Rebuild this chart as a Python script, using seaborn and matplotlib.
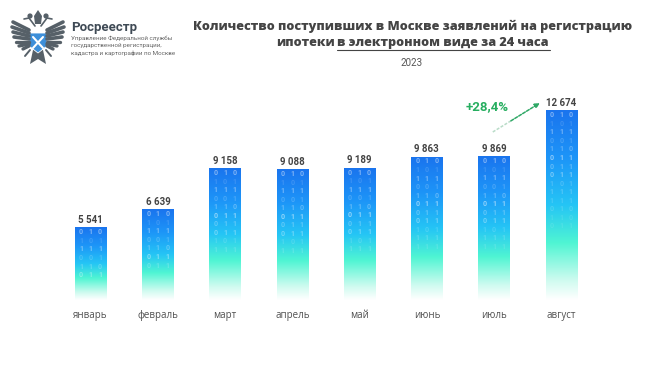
import numpy as np
import pandas as pd
import seaborn as sns
import matplotlib.pyplot as plt
from matplotlib.colors import LinearSegmentedColormap
from matplotlib.patches import Polygon, Circle

months = ["январь", "февраль", "март", "апрель", "май", "июнь", "июль", "август"]
values = [5541, 6639, 9158, 9088, 9189, 9863, 9869, 12674]
value_labels = ["5 541", "6 639", "9 158", "9 088", "9 189", "9 863", "9 869", "12 674"]
title_line1 = "Количество поступивших в Москве заявлений на регистрацию"
title_plain = "ипотеки"
title_under = "в электронном виде за 24 часа"
year = "2023"
growth = "+28,4%"
org = "Росреестр"
org_lines = ["Управление Федеральной службы", "государственной регистрации,", "кадастра и картографии по Москве"]
digit_rows = ["010", "101", "111", "001", "110", "011", "011", "011", "101", "111", "111", "010", "110", "011"]
digit_alpha = [0.45, 0.15, 0.4, 0.2, 0.3, 0.5, 0.3, 0.4, 0.2, 0.25, 0.2, 0.2, 0.15, 0.15]

sns.set_theme(style="white")
plt.rcParams["font.family"] = ["Roboto", "DejaVu Sans"]

W, H = 650, 367
fig = plt.figure(figsize=(W / 100, H / 100), dpi=100, facecolor="white")

# axes spans x 57..595 px, y 300 (bottom) .. 100 (top)
ax = fig.add_axes([57 / W, 1 - 300 / H, 538 / W, 200 / H])
df = pd.DataFrame({"month": months, "value": values})
sns.barplot(data=df, x="month", y="value", ax=ax, width=0.47, color="#1a7df0", saturation=1)
ymin, ymax = 1150, 13340
ax.set_xlabel("")
ax.set_ylabel("")
ax.set_yticks([])
ax.tick_params(axis="x", length=0, pad=7, labelsize=7, labelcolor="#505050")
for lab in ax.get_xticklabels():
    lab.set_fontfamily("Open Sans")
sns.despine(ax=ax, left=True, bottom=True)

cmap = LinearSegmentedColormap.from_list("bar", [
    (0.0, "#ffffff"), (0.1, "#d0fbf0"), (0.3, "#4ff5d3"), (0.5, "#25c5f5"),
    (0.75, "#1d95f8"), (1.0, "#1a74ee")])
grad = np.linspace(1, 0, 256).reshape(-1, 1)

for i, bar in enumerate(ax.patches):
    x0, w, top = bar.get_x(), bar.get_width(), bar.get_height()
    bar.set_visible(False)
    ax.imshow(grad, cmap=cmap, vmin=0, vmax=1, aspect="auto", zorder=2,
              extent=[x0, x0 + w, ymin, top], interpolation="bilinear")
    ax.text(x0 + w / 2, top + 170, value_labels[i], ha="center", va="bottom",
            fontsize=7, fontweight="bold", color="#444444", clip_on=False)
    # binary digits, fading out down the bar
    y = top - 270
    row = 0
    while y > ymin + (top - ymin) * 0.33 and row < len(digit_rows):
        frac = (y - ymin) / (top - ymin)
        for c, d in enumerate(digit_rows[row]):
            ax.text(x0 + w * (0.2 + 0.3 * c), y, d, ha="center", va="center", fontsize=5,
                    fontweight="bold", color="white", alpha=digit_alpha[row] * min(1, frac + 0.35), zorder=3)
        y -= 520
        row += 1
ax.set_xlim(-0.5, 7.5)
ax.set_ylim(ymin, ymax)

# arrow from July to August, lighter at the tail
ax.plot([5.98, 6.25], [11390, 12070], ls=(0, (2, 1)), color="#b9dcc8", lw=1.1, zorder=4)
ax.annotate("", xy=(6.68, 13157), xytext=(6.25, 12070), zorder=4,
            arrowprops=dict(arrowstyle="-|>", ls=(0, (2, 1)), color="#2fa866", lw=1.1, mutation_scale=7,
                            shrinkA=0, shrinkB=0))
ax.text(5.89, 12913, growth, ha="center", va="center", fontsize=9.5, fontweight="bold",
        color="#27ae60", clip_on=False)

# header
tx = fig.add_axes([0, 0, 1, 1], zorder=5)
tx.set_xlim(0, W)
tx.set_ylim(H, 0)
tx.axis("off")
tx.patch.set_alpha(0)
tkw = dict(va="center", fontsize=9.07, fontweight="heavy", color="#444444", family="Open Sans")
tx.text(413, 26, title_line1, ha="center", **tkw)
tx.text(276, 43, title_plain, ha="left", **tkw)
tx.text(337, 43, title_under, ha="left", **tkw)
tx.plot([337, 550], [49.5, 49.5], color="#444444", lw=0.8)
tx.text(412, 63, year, ha="center", va="center", fontsize=7, color="#555555")

tx.text(71, 27, org, ha="left", va="center", fontsize=9.5, fontweight="bold", color="#3f4a55")
for k, line in enumerate(org_lines):
    tx.text(71, 38.5 + k * 7.2, line, ha="left", va="center", fontsize=4.5, color="#666666")

# emblem
dark = "#566068"
cx = 38
for side in (-1, 1):
    # feathers fan out from the shield
    for tip, base, lw in [((25, 22), (9, 30), 2.6), ((26, 27), (9, 33), 2.6), ((25, 32), (9, 36), 2.6),
                          ((24, 37), (9, 39), 2.6), ((22, 42), (9, 42), 2.4), ((19, 46), (9, 44), 2.4),
                          ((15, 49), (9, 46), 2.4)]:
        tx.plot([cx + side * base[0], cx + side * tip[0]], [base[1], tip[1]], color=dark, lw=lw,
                solid_capstyle="round")
    tx.plot([cx + side * 3, cx + side * 9, cx + side * 14], [26, 18, 19], color=dark, lw=1.2)
    tx.add_patch(Circle((cx + side * 8, 16), 2.6, fc=dark, ec="none"))
    tx.plot([cx + side * 8, cx + side * 13], [50, 56], color=dark, lw=1.4)
tx.add_patch(Polygon([(34, 16), (38, 10), (42, 16), (41, 24), (35, 24)], closed=True, fc=dark, ec="none"))
tx.add_patch(Polygon([(33, 50), (43, 50), (46, 64), (38, 59), (30, 64)], closed=True, fc=dark, ec="none"))
tx.add_patch(Polygon([(29, 33), (47, 33), (47, 46), (38, 53), (29, 46)], closed=True, fc="#3d8fd9", ec="white", lw=0.6))
tx.plot([33, 43], [37, 48], color="white", lw=1.5)
tx.plot([43, 33], [37, 48], color="white", lw=1.5)

fig.savefig("out.png", dpi=100)
